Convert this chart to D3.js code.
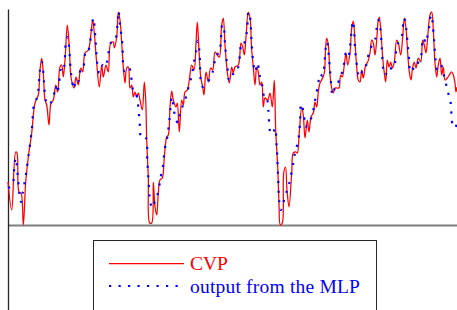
<!DOCTYPE html>
<html>
<head>
<meta charset="utf-8">
<script src="https://cdn.jsdelivr.net/npm/d3@7"></script>
<style>
  body { margin: 0; background: #fff; }
  svg { display: block; }
</style>
</head>
<body>
<div id="chart"></div>
<script>
// CVP trace (sample index, value)
const cvpTime = [0, 3.7, 7.7, 9, 11, 13, 15.3, 17.7, 20.3, 23.7, 27, 30.3, 32, 33.7, 35.3, 37, 38.7, 41, 43, 45.3,
  47.7, 49.7, 52, 53.7, 55.3, 57, 59.3, 61.3, 63, 66, 68, 70.3, 72.7, 74.7, 77, 80.3, 83, 84.7, 86.3, 88.7,
  91.3, 93.7, 95.3, 98, 100.3, 102.7, 105.3, 106.3, 108.7, 110.3, 112, 113.7, 115.3, 117, 118.7, 120.3, 122, 123.7, 125.3, 127,
  128.7, 130.3, 132, 134.3, 136.3, 137.7, 138.7, 140.3, 141.7, 143.7, 145.3, 147, 148.7, 150.3, 152, 154.3, 156.3, 158.7, 160.3, 162,
  163.7, 165.3, 168, 169.3, 171.3, 173.7, 175.3, 177, 179.3, 181.3, 183.7, 186, 188, 189.3, 191, 192.7, 194.7, 196, 198, 200.3,
  202.7, 204.7, 207, 209.3, 211.3, 213.7, 215.3, 217, 219.3, 221.3, 223.7, 225.3, 227, 230.3, 233, 234.7, 236.3, 238, 240.3, 242,
  243.7, 245.3, 247, 248.7, 250.3, 252, 253.7, 255.3, 257, 259.7, 262, 264.3, 266.3, 267.7, 269.7, 271, 272.3, 274.3, 275.7, 277.5,
  279, 281, 283.7, 285.3, 288, 289.3, 291.3, 293.7, 295.3, 297, 299.3, 301, 303, 305.3, 307, 308.7, 310.3, 312, 314.7, 316.3,
  317.7, 318.7, 320.3, 322, 323.7, 325.3, 327, 329.3, 331, 332.7, 334.3, 336.3, 338, 339.7, 342, 343.7, 345.3, 347, 348.7, 350.3,
  352, 353.7, 355.3, 357.7, 359.7, 362, 363.7, 365.3, 367, 368.7, 370.3, 371.3, 373, 374.7, 376.3, 377.7, 379.3, 381, 382.7, 384.5,
  386.3, 388.7, 390.3, 392.7, 394.7, 396.3, 398, 399.7, 401.3, 403, 404.7, 406.3, 408, 410.3, 412.7, 414.7, 416.3, 418, 419.7, 422,
  423.7, 425.3, 427, 428.7, 430.3, 432, 433.7, 435.3, 437, 439.3, 441.3, 443.7, 445.3, 447, 448, 449];
const cvpValue = [43, 15, 73, 72, 33, 32, 0, 43, 68, 92, 122, 130, 155, 167, 152, 125, 120, 100, 122, 125,
  140, 133, 158, 160, 148, 165, 200, 178, 148, 137, 148, 140, 157, 153, 172, 175, 192, 205, 192, 162,
  138, 160, 148, 160, 153, 182, 183, 177, 188, 213, 205, 182, 158, 142, 157, 158, 137, 140, 128, 133,
  128, 132, 125, 115, 143, 125, 85, 48, 2, 2, 43, 18, 10, 32, 45, 47, 68, 88, 90, 118,
  134, 125, 118, 122, 93, 125, 120, 133, 135, 145, 160, 155, 182, 203, 175, 148, 138, 130, 153, 143,
  157, 155, 173, 170, 168, 200, 207, 180, 153, 142, 158, 152, 158, 160, 182, 178, 170, 188, 213, 207,
  175, 158, 140, 158, 153, 140, 143, 118, 127, 125, 132, 118, 145, 95, 58, 22, 0, 2, 52, 58,
  35, 18, 52, 72, 73, 72, 93, 118, 110, 87, 105, 93, 108, 112, 123, 118, 133, 142, 147, 152,
  178, 187, 180, 150, 137, 132, 137, 137, 137, 150, 148, 160, 172, 160, 172, 197, 204, 183, 158, 145,
  143, 155, 147, 160, 163, 172, 185, 182, 170, 185, 205, 208, 192, 167, 152, 143, 165, 158, 163, 157,
  163, 185, 182, 170, 188, 207, 197, 172, 153, 145, 158, 163, 157, 167, 163, 185, 180, 172, 188, 210,
  213, 195, 162, 148, 160, 167, 150, 158, 145, 147, 150, 153, 150, 142, 133, 138];

// MLP output
const mlpTime = [0, 4.3, 6.3, 7.7, 9.7, 11.3, 13, 14.7, 17.7, 20.3, 23.7, 26.3, 29.3, 32, 34, 36, 37.7, 40.3, 42.7, 45.3,
  47.7, 49.3, 51, 53, 54.7, 56.3, 58, 59.7, 61, 63, 66, 68, 70, 72.7, 74.7, 77, 78.7, 80.3, 82, 85.3,
  87.3, 89.3, 91.3, 93, 94.7, 96.5, 99.3, 102.7, 106, 107.7, 109.7, 110.6, 112, 114.3, 116.3, 118.7, 121, 123, 126, 128,
  129.7, 132, 133, 135.3, 138, 139.3, 141.3, 142, 144.7, 147, 149.7, 152.7, 154.7, 157, 159.3, 161, 162.7, 163.7, 166, 168,
  170.3, 172, 174.7, 178, 180.3, 182.7, 184.3, 186, 188, 189.5, 191.3, 193.7, 195.3, 199.3, 202, 204.3, 206.3, 207.7, 211.3, 212.7,
  214.3, 215.3, 217, 218, 219.7, 221, 223, 225.3, 227.7, 230.3, 232, 233.7, 235.3, 237.7, 239.7, 240.3, 242, 243.7, 245.3, 247,
  249.7, 251, 253, 255.3, 256.3, 258.7, 260.3, 262.7, 264.7, 267, 268.7, 270, 271.3, 272.7, 275.3, 276.3, 279.7, 282, 285.3, 287,
  290.3, 292, 293, 294.3, 296, 297.5, 300.3, 303.7, 307, 310.3, 312, 314.7, 316.3, 317.7, 319.2, 320.3, 322, 324.7, 327, 329.3,
  331.5, 334.3, 336.3, 338, 340.3, 342, 343.7, 344.7, 346, 347, 348, 351.3, 354, 357, 358.7, 362.7, 364.7, 367, 368.7, 370.5,
  372.3, 373.7, 376, 377.7, 379.7, 382, 384.7, 387, 388.7, 390.3, 393.7, 394.7, 396.3, 398, 399.7, 401.3, 402, 404.7, 408, 410.3,
  413, 415.3, 418, 419.3, 421, 422, 423.7, 424.7, 426.3, 427.7, 429.3, 431.3, 433, 435.3, 437.7, 439.3, 442, 443, 444.7, 447, 448.7];
const mlpValue = [37, 40, 58, 67, 50, 32, 23, 32, 49, 68, 94, 122, 128, 155, 163, 143, 125, 120, 122, 127,
  139, 132, 142, 155, 153, 159, 183, 188, 179, 152, 136, 145, 143, 155, 155, 171, 176, 175, 182, 207,
  188, 161, 152, 154, 160, 158, 164, 182, 183, 186, 204, 214, 200, 182, 154, 156, 158, 149, 132, 131,
  123, 98, 88, 89, 87, 65, 32, 23, 17, 25, 31, 48, 57, 77, 88, 101, 119, 128, 114, 105,
  102, 111, 119, 128, 137, 145, 152, 163, 173, 184, 175, 139, 138, 142, 147, 152, 161, 170, 172, 182,
  200, 200, 182, 170, 155, 145, 151, 151, 157, 158, 172, 182, 181, 186, 204, 213, 208, 180, 162, 153,
  162, 153, 144, 135, 126, 126, 115, 92, 91, 97, 78, 51, 23, 15, 20, 28, 36, 45, 62, 72,
  85, 102, 121, 118, 110, 98, 102, 108, 124, 142, 151, 149, 159, 177, 183, 175, 155, 130, 137, 138,
  148, 153, 162, 172, 168, 178, 196, 204, 196, 177, 167, 148, 153, 154, 163, 177, 181, 185, 197, 205,
  197, 178, 152, 150, 157, 157, 156, 162, 179, 182, 188, 197, 207, 198, 180, 162, 153, 156, 156, 163,
  169, 187, 182, 188, 197, 206, 210, 201, 182, 164, 155, 159, 160, 152, 143, 134, 127, 118, 100, 97, 101];

const seriesNames = ["CVP", "output from the MLP"];
const seriesColors = ["#ff0000", "#0000ff"];

const W = 457, H = 310;
const svg = d3.select("#chart").append("svg")
  .attr("width", W)
  .attr("height", H);

const x = d3.scaleLinear().domain([0, 449]).range([8, 457]);
const y = d3.scaleLinear().domain([-85, 216]).range([310, 9]);

// zero line
svg.append("g")
  .attr("transform", `translate(0,${y(0)})`)
  .call(d3.axisBottom(x).ticks(0).tickSizeOuter(0))
  .select(".domain")
  .attr("stroke", "#7f7f7f")
  .attr("stroke-width", 2);

// left axis
svg.append("g")
  .attr("transform", `translate(${x(0)},0)`)
  .call(d3.axisLeft(y).ticks(0).tickSizeOuter(0))
  .select(".domain")
  .attr("stroke", "#262626")
  .attr("stroke-width", 1.3);

const cvp = cvpTime.map((t, i) => [t, cvpValue[i]]);
const mlp = mlpTime.map((t, i) => [t, mlpValue[i]]);

const line = d3.line()
  .x(d => x(d[0]))
  .y(d => y(d[1]))
  .curve(d3.curveCatmullRom.alpha(0.5));

svg.append("path")
  .datum(cvp)
  .attr("d", line)
  .attr("fill", "none")
  .attr("stroke", seriesColors[0])
  .attr("stroke-width", 1.25);

svg.append("path")
  .datum(mlp)
  .attr("d", line)
  .attr("fill", "none")
  .attr("stroke", seriesColors[1])
  .attr("stroke-width", 2.2)
  .attr("stroke-dasharray", "2.2 7.3");

// legend
const legend = svg.append("g");
legend.append("rect")
  .attr("x", 93.5)
  .attr("y", 240.5)
  .attr("width", 283)
  .attr("height", 90)
  .attr("fill", "#fff")
  .attr("stroke", "#262626")
  .attr("stroke-width", 1);

seriesNames.forEach((name, i) => {
  const ly = 263.5 + i * 22.5;
  legend.append("line")
    .attr("x1", 109).attr("x2", i === 0 ? 184 : 178)
    .attr("y1", ly).attr("y2", ly)
    .attr("stroke", seriesColors[i])
    .attr("stroke-width", i === 0 ? 1.25 : 2.2)
    .attr("stroke-dasharray", i === 0 ? null : "2.2 7.3");
  legend.append("text")
    .attr("x", 190)
    .attr("y", ly + 6.5)
    .attr("fill", seriesColors[i])
    .attr("font-family", "'Liberation Serif', 'DejaVu Serif', serif")
    .attr("font-size", 19.5)
    .attr("letter-spacing", i === 0 ? 0 : 0.2)
    .text(name);
});
</script>
</body>
</html>
